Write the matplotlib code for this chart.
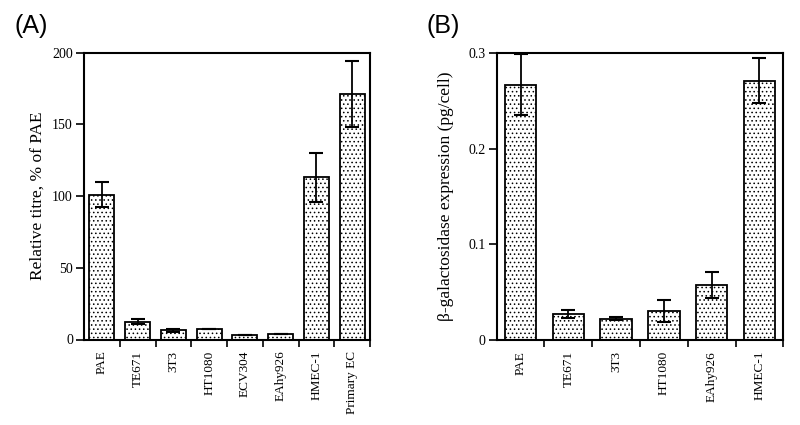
import numpy as np
import matplotlib.pyplot as plt

# Panel A: relative titre
cells_a = ['PAE', 'TE671', '3T3', 'HT1080', 'ECV304', 'EAhy926', 'HMEC-1', 'Primary EC']
titre = [101, 12.5, 6.5, 7.5, 3, 3.5, 113, 171]
titre_err = [9, 1.5, 1, 0, 0, 0, 17, 23]

# Panel B: beta-galactosidase expression
cells_b = ['PAE', 'TE671', '3T3', 'HT1080', 'EAhy926', 'HMEC-1']
bgal = [0.267, 0.027, 0.022, 0.0297, 0.057, 0.271]
bgal_err = [0.032, 0.0045, 0.0015, 0.0115, 0.0135, 0.0235]

plt.rcParams['font.family'] = ['Liberation Serif', 'DejaVu Serif']
plt.rcParams['hatch.linewidth'] = 0.6

fig = plt.figure(figsize=(8, 4.25), dpi=100)
ax_a = fig.add_axes([84 / 800, 1 - 339.5 / 425, 286 / 800, 287 / 425])
ax_b = fig.add_axes([496.7 / 800, 1 - 339.7 / 425, 286.6 / 800, 286.7 / 425])


def draw(ax, cells, vals, errs, width, ymax, yticks, ylabels):
    x = np.arange(len(cells))
    ax.bar(x, vals, width=width, color='white', edgecolor='black',
           linewidth=1.3, hatch='....', zorder=2)
    ax.errorbar(x, vals, yerr=errs, fmt='none', ecolor='black',
                elinewidth=1.3, capsize=5, capthick=1.5, zorder=3)
    ax.set_xlim(-0.5, len(cells) - 0.5)
    ax.set_ylim(0, ymax)
    ax.set_yticks(yticks)
    ax.set_yticklabels(ylabels, fontsize=10)
    # major ticks sit on the boundaries between bars, labels on minor ticks
    ax.set_xticks(x + 0.5, minor=False)
    ax.set_xticklabels([])
    ax.tick_params(axis='x', length=5, width=1.2, direction='out')
    ax.tick_params(axis='y', length=6, width=1.2, direction='out', pad=2)
    ax.set_xticks(x, minor=True)
    ax.set_xticklabels(cells, minor=True, rotation=90, fontsize=9.5)
    ax.tick_params(axis='x', which='minor', length=0, pad=8)
    for s in ax.spines.values():
        s.set_linewidth(1.5)


draw(ax_a, cells_a, titre, titre_err, 0.7, 200,
     [0, 50, 100, 150, 200], ['0', '50', '100', '150', '200'])
ax_a.set_ylabel('Relative titre, % of PAE', fontsize=12.5, labelpad=5)

draw(ax_b, cells_b, bgal, bgal_err, 0.66, 0.3,
     [0, 0.1, 0.2, 0.3], ['0', '0.1', '0.2', '0.3'])
ax_b.set_ylabel('β-galactosidase expression (pg/cell)', fontsize=12.5, labelpad=10)

fig.text(14 / 800, 1 - 26 / 425, '(A)', fontsize=18, family='Liberation Sans', va='center')
fig.text(427 / 800, 1 - 26 / 425, '(B)', fontsize=18, family='Liberation Sans', va='center')

fig.savefig('out.png', dpi=100)
